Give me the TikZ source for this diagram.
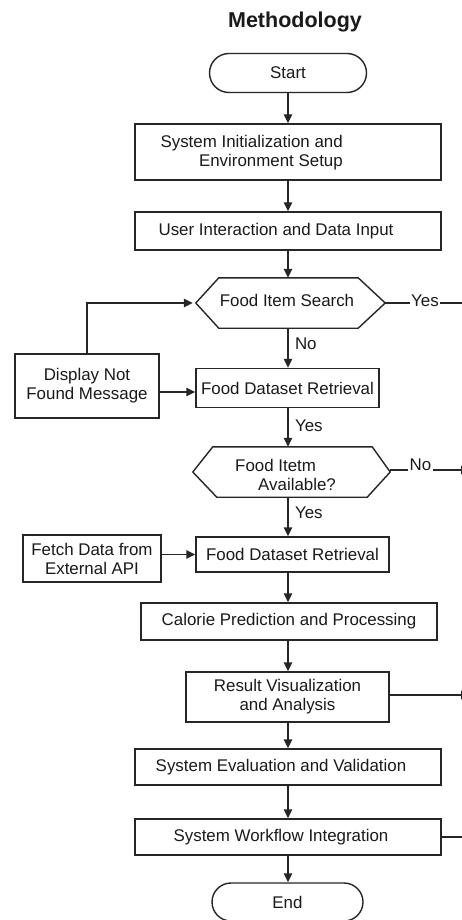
\documentclass[tikz,border=0pt]{standalone}
\usepackage{fontspec}
\setmainfont{Liberation Sans}
\usetikzlibrary{arrows.meta,shapes.misc}
\definecolor{linec}{HTML}{262626}
\definecolor{textc}{HTML}{1A1A1A}
\begin{document}
\begin{tikzpicture}[x=1pt,y=-1pt,
  ln/.style={draw=linec, line width=1.4pt},
  arr/.style={ln, -{Triangle[length=9pt,width=8.5pt]}},
  txt/.style={font=\fontsize{16.9}{19}\selectfont, text=textc},
  box/.style={txt, draw=linec, line width=1.4pt, fill=white, inner sep=0pt, align=center},
  term/.style={box, rounded rectangle},
  plain/.style={txt, inner sep=0pt, align=center},
  lbl/.style={txt, inner sep=1.5pt, fill=white}]
\useasboundingbox (0,0) rectangle (462,920);
\clip (0,0) rectangle (462,920);
\fill[white] (0,0) rectangle (462,920);
\coordinate (spine) at (288,0);
\coordinate (redge) at (462,0);
\coordinate (rtip) at (470,0);

\node[txt, font=\fontsize{21.5}{24}\selectfont\bfseries] (title) at (295,22) {Methodology};

\node[term, minimum width=157pt, minimum height=39pt] (start) at (288,73) {Start};

\node[box, minimum width=306pt, minimum height=56pt] (b1) at (288,152) {};
\node[plain, align=right, anchor=east] (b1t) at (343,153) {System Initialization and\\Environment Setup};

\node[box, minimum width=306pt, minimum height=38pt] (b2) at (288,231) {User Interaction and Data Input\hspace*{24pt}};

\node[plain, minimum width=189pt, minimum height=50pt] (h1) at (290.5,303) {};
\draw[ln, line join=miter, fill=white] (h1.west) -- ([xshift=23pt]h1.north west) -- ([xshift=-27pt]h1.north east) -- (h1.east) -- ([xshift=-27pt]h1.south east) -- ([xshift=23pt]h1.south west) -- cycle;
\node[plain] (h1t) at (287,300) {Food Item Search};

\node[box, minimum width=183pt, minimum height=39pt] (r1) at (287.5,388) {Food Dataset Retrieval};
\node[box, minimum width=144pt, minimum height=64pt] (disp) at (87,386) {Display Not\\Found Message};

\node[plain, minimum width=197pt, minimum height=50pt] (h2) at (291.5,472) {};
\draw[ln, line join=miter, fill=white] (h2.west) -- ([xshift=20pt]h2.north west) -- ([xshift=-18pt]h2.north east) -- (h2.east) -- ([xshift=-23pt]h2.south east) -- ([xshift=24pt]h2.south west) -- cycle;
\node[plain, align=left, anchor=west] (h2t) at (235,474.5) {Food Itetm\\\hspace*{23pt}Available?};

\node[box, minimum width=193pt, minimum height=35pt] (r2) at (292.5,554.5) {Food Dataset Retrieval};
\node[box, minimum width=138pt, minimum height=47pt] (fetch) at (92,558.5) {Fetch Data from\\External API};

\node[box, minimum width=296pt, minimum height=37pt] (cal) at (289,621.5) {Calorie Prediction and Processing};
\node[box, minimum width=203pt, minimum height=50pt] (res) at (287.5,697) {Result Visualization\\and Analysis};
\node[box, minimum width=306pt, minimum height=36pt] (eval) at (288,767) {System Evaluation and Validation\hspace*{14pt}};
\node[box, minimum width=306pt, minimum height=36pt] (wf) at (288,837) {System Workflow Integration\hspace*{14pt}};
\node[term, minimum width=151pt, minimum height=38pt] (end) at (287.5,902) {End};

% main spine
\draw[arr] (start.south -| spine) -- (b1.north -| spine);
\draw[arr] (b1.south -| spine) -- (b2.north -| spine);
\draw[arr] (b2.south -| spine) -- (h1.north -| spine);
\draw[arr] (h1.south -| spine) -- node[txt, right=3pt, pos=0.4] (lno1) {No} (r1.north -| spine);
\draw[arr] (r1.south -| spine) -- node[txt, right=3pt, pos=0.45] (lyes2) {Yes} (h2.north -| spine);
\draw[arr] (h2.south -| spine) -- node[txt, right=3pt, pos=0.4] (lyes3) {Yes} (r2.north -| spine);
\draw[arr] (r2.south -| spine) -- (cal.north -| spine);
\draw[arr] (cal.south -| spine) -- (res.north -| spine);
\draw[arr] (res.south -| spine) -- (eval.north -| spine);
\draw[arr] (eval.south -| spine) -- (wf.north -| spine);
\draw[arr] (wf.south -| spine) -- (end.north -| spine);

% side connectors
\draw[arr] (disp.north) |- ([xshift=-3pt]h1.west);
\coordinate (dr) at ([yshift=-4pt]r1.west);
\draw[arr] (dr -| disp.east) -- (dr);
\draw[arr] (fetch.east |- r2.west) -- (r2.west);

\draw[ln] (h1.east) -- (h1.east -| redge);
\node[lbl] (lyes1) at (425,301) {Yes};
\draw[arr] ([yshift=2pt]h2.east) -- ([yshift=2pt]h2.east -| rtip);
\node[lbl] (lno2) at (420.5,465) {No};
\draw[arr] ([yshift=2pt]res.east) -- ([yshift=2pt]res.east -| rtip);
\draw[ln] (wf.east) -- (wf.east -| redge);
\end{tikzpicture}
\end{document}
